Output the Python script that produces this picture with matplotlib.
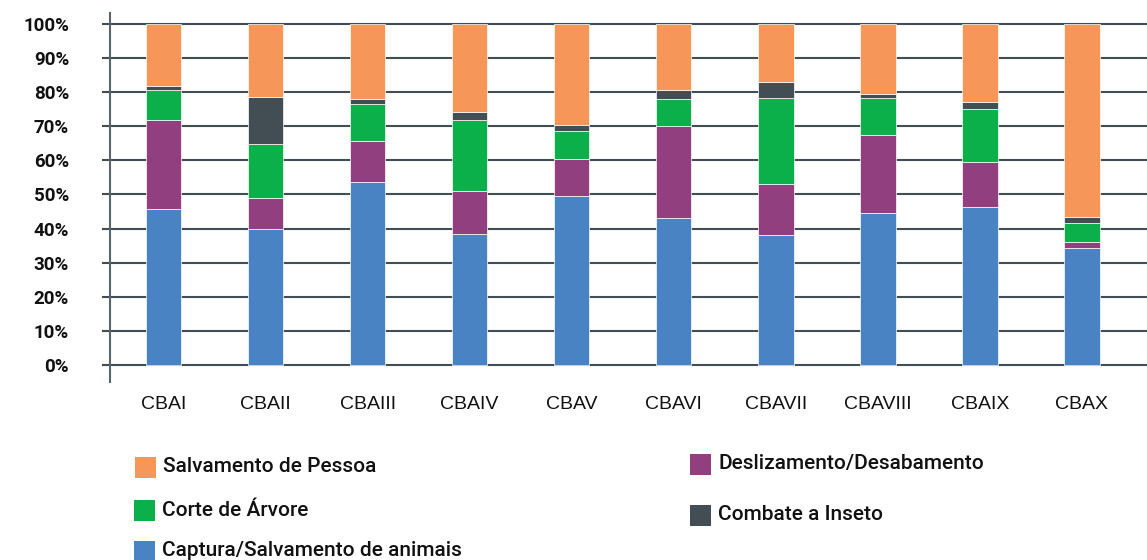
import matplotlib.pyplot as plt
from matplotlib.patches import Rectangle

# Categories and stacked shares (%)
stations = ["CBAI", "CBAII", "CBAIII", "CBAIV", "CBAV",
            "CBAVI", "CBAVII", "CBAVIII", "CBAIX", "CBAX"]
captura = [45.7, 39.9, 53.7, 38.4, 49.6, 43.1, 38.1, 44.7, 46.3, 34.3]
deslizamento = [26.1, 9.2, 12.0, 12.6, 10.8, 27.0, 15.1, 22.7, 13.3, 1.8]
corte = [8.8, 15.7, 10.8, 20.8, 8.2, 7.9, 25.1, 10.9, 15.5, 5.5]
combate = [1.2, 13.8, 1.5, 2.4, 1.8, 2.6, 4.7, 1.2, 2.0, 1.8]
salvamento = [18.2, 21.4, 22.0, 25.8, 29.6, 19.4, 17.0, 20.5, 22.9, 56.6]

series = [
    ("Captura/Salvamento de animais", captura, "#4A83C4"),
    ("Deslizamento/Desabamento", deslizamento, "#913F7E"),
    ("Corte de Árvore", corte, "#0CB04A"),
    ("Combate a Inseto", combate, "#434E54"),
    ("Salvamento de Pessoa", salvamento, "#F79659"),
]

GRID = "#434E54"
FONT = "Roboto"
INK = "#111111"

fig = plt.figure(figsize=(11.47, 5.6), dpi=100)
ax = fig.add_axes([110 / 1147, 1 - 382 / 560, 1 - 110 / 1147, (382 - 13) / 560])

x = list(range(len(stations)))
bottom = [0.0] * len(stations)
for name, vals, color in series:
    ax.bar(x, vals, width=0.35, bottom=bottom, color=color,
           edgecolor="white", linewidth=0.5, zorder=3)
    bottom = [b + v for b, v in zip(bottom, vals)]

ax.set_xlim(-0.525, 9.64)
ax.set_ylim(-5, 103.2)
ax.set_yticks(range(0, 101, 10))
ax.set_yticklabels([f"{v}%" for v in range(0, 101, 10)],
                   fontfamily=FONT, fontweight="bold", fontsize=13.5, color=INK)
ax.set_xticks(x)
ax.set_xticklabels(stations, fontfamily="Liberation Sans", fontsize=14, color=INK)

ax.yaxis.grid(True, color=GRID, linewidth=1.5)
ax.set_axisbelow(True)
ax.tick_params(axis="y", length=5.5, width=1.5, color=GRID, pad=24)
ax.tick_params(axis="x", length=0, pad=10)

for s in ["top", "right", "bottom"]:
    ax.spines[s].set_visible(False)
ax.spines["left"].set_color("#5a656b")
ax.spines["left"].set_linewidth(1.5)

# Manual legend, two columns like the reference
W, H = 1147, 560
legend_pos = [
    ("Salvamento de Pessoa", "#F79659", 135, 467),
    ("Corte de Árvore", "#0CB04A", 134, 510),
    ("Captura/Salvamento de animais", "#4A83C4", 134, 551),
    ("Deslizamento/Desabamento", "#913F7E", 690, 464),
    ("Combate a Inseto", "#434E54", 690, 515),
]
for label, color, px, py in legend_pos:
    fig.add_artist(Rectangle((px / W, 1 - (py + 10.5) / H), 21 / W, 21 / H,
                             transform=fig.transFigure, facecolor=color,
                             edgecolor="none"))
    fig.text((px + 28) / W, 1 - py / H, label, fontfamily=FONT, fontsize=15,
             fontweight="medium", va="center", ha="left", color=INK)

fig.savefig("out.png", dpi=100)
